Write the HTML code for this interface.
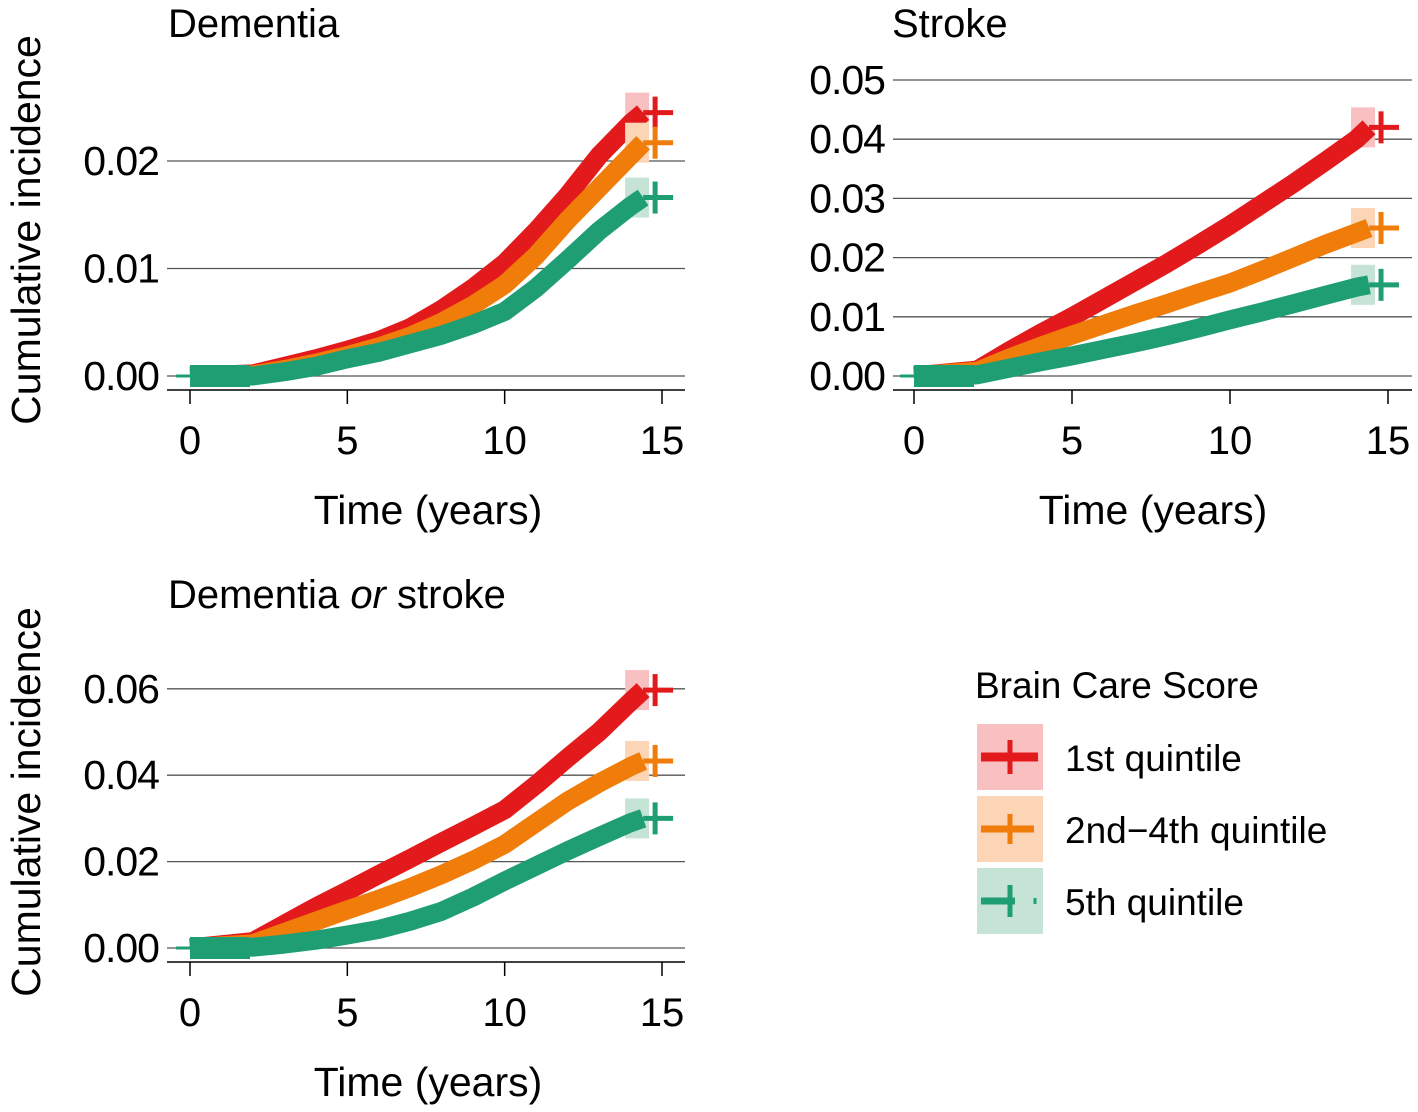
<!DOCTYPE html>
<html><head><meta charset="utf-8"><style>
html,body{margin:0;padding:0;background:#fff;}
svg{display:block;font-family:"Liberation Sans",Arial,sans-serif;}
</style></head><body>
<svg id="fig" width="1418" height="1112" viewBox="0 0 1418 1112" xmlns="http://www.w3.org/2000/svg">
<g id="legend">
<text x="975" y="698" font-size="37">Brain Care Score</text>
<g>
<rect x="977" y="724" width="66" height="66" fill="#f9c0c2"/>
<line x1="981" y1="757" x2="1038" y2="757" stroke="#e31a1c" stroke-width="9"/>
<line x1="1010" y1="740" x2="1010" y2="774" stroke="#e31a1c" stroke-width="5"/>
<text x="1065" y="771" font-size="37">1st quintile</text></g>
<g>
<rect x="977" y="796" width="66" height="66" fill="#fbd5b5"/>
<line x1="981" y1="829" x2="1034" y2="829" stroke="#f07c0a" stroke-width="7"/>
<line x1="1010" y1="814" x2="1010" y2="844" stroke="#f07c0a" stroke-width="5"/>
<text x="1065" y="843" font-size="37">2nd−4th quintile</text></g>
<g>
<rect x="977" y="868" width="66" height="66" fill="#c5e4d6"/>
<line x1="981" y1="901" x2="1015" y2="901" stroke="#1f9e74" stroke-width="7"/>
<line x1="1035" y1="898" x2="1035" y2="904" stroke="#1f9e74" stroke-width="3"/>
<line x1="1010" y1="885" x2="1010" y2="917" stroke="#1f9e74" stroke-width="5"/>
<text x="1065" y="915" font-size="37">5th quintile</text></g>
</g>
</svg>
<script>
const years = [0, 2, 3, 4, 5, 6, 7, 8, 9, 10, 11, 12, 13, 14, 14.4];
const dementiaRed    = [0, 0.0002, 0.0009, 0.0016, 0.0024, 0.0033, 0.0045, 0.0062, 0.0082, 0.0105, 0.0135, 0.0168, 0.0205, 0.0235, 0.0245];
const dementiaOrange = [0, 0.0001, 0.0006, 0.0012, 0.0019, 0.0027, 0.0037, 0.0050, 0.0066, 0.0085, 0.0112, 0.0145, 0.0175, 0.0205, 0.0217];
const dementiaGreen  = [0, 0.0000, 0.0004, 0.0009, 0.0016, 0.0022, 0.0030, 0.0038, 0.0048, 0.0060, 0.0082, 0.0108, 0.0135, 0.0158, 0.0166];
const strokeRed      = [0, 0.0010, 0.0042, 0.0072, 0.0100, 0.0130, 0.0160, 0.0190, 0.0222, 0.0255, 0.0290, 0.0325, 0.0362, 0.0400, 0.0420];
const strokeOrange   = [0, 0.0008, 0.0030, 0.0050, 0.0069, 0.0087, 0.0105, 0.0122, 0.0140, 0.0157, 0.0178, 0.0200, 0.0222, 0.0242, 0.0250];
const strokeGreen    = [0, 0.0002, 0.0013, 0.0024, 0.0034, 0.0045, 0.0056, 0.0068, 0.0081, 0.0095, 0.0108, 0.0122, 0.0136, 0.0150, 0.0154];
const bothRed        = [0, 0.0015, 0.0055, 0.0095, 0.0132, 0.0170, 0.0207, 0.0245, 0.0282, 0.0320, 0.0378, 0.0440, 0.0500, 0.0570, 0.0597];
const bothOrange     = [0, 0.0010, 0.0036, 0.0062, 0.0088, 0.0113, 0.0140, 0.0170, 0.0203, 0.0240, 0.0290, 0.0340, 0.0382, 0.0420, 0.0433];
const bothGreen      = [0, 0.0002, 0.0009, 0.0018, 0.0030, 0.0043, 0.0062, 0.0085, 0.0118, 0.0155, 0.0190, 0.0225, 0.0258, 0.0290, 0.0300];
const xTicks = [0, 5, 10, 15];
const dementiaTicks = ["0.00", "0.01", "0.02"];
const strokeTicks = ["0.00", "0.01", "0.02", "0.03", "0.04", "0.05"];
const bothTicks = ["0.00", "0.02", "0.04", "0.06"];
const colors = ["#e31a1c", "#f07c0a", "#1f9e74"];
const ribbons = ["#f9c0c2", "#fbd5b5", "#c5e4d6"];
const NS = "http://www.w3.org/2000/svg";
const svg = document.getElementById("fig");
function mk(tag, attrs, parent){const e=document.createElementNS(NS,tag);for(const k in attrs)e.setAttribute(k,attrs[k]);(parent||svg).appendChild(e);return e;}

function panel(name, title, italicTitle, titleX, titleY, x0, x15, y0, yPerUnit, ticks, series, gridLeft, gridRight, showYTitle){
  const g = mk("g", {});
  
  
  const sx = t => x0 + (x15 - x0) * t / 15;
  const sy = v => y0 - v * yPerUnit;
  const tt = mk("text", {x: titleX, y: titleY, "font-size": 40}, g);
  
  
  if (italicTitle) {
    tt.textContent = "Dementia ";
    const s = mk("tspan", {"font-style":"italic"}, tt); s.textContent = "or";
    const s2 = mk("tspan", {}, tt); s2.textContent = " stroke";
  } else tt.textContent = title;
  ticks.forEach(lbl => {
    const v = parseFloat(lbl), y = sy(v);
    const gl = mk("line", {x1: gridLeft, x2: gridRight, y1: y, y2: y, stroke: "#555", "stroke-width": 1.3}, g);
    
    
    const t = mk("text", {x: gridLeft - 8, y: y + 14, "font-size": 41, "text-anchor": "end", "letter-spacing": "-1"}, g);
    
    
    t.textContent = lbl;
  });
  const ay = y0 + 14;
  const ax = mk("line", {x1: gridLeft, x2: gridRight, y1: ay, y2: ay, stroke: "#000", "stroke-width": 1.5}, g);
  
  
  xTicks.forEach(t => {
    const tk = mk("line", {x1: sx(t), x2: sx(t), y1: ay, y2: ay + 14, stroke: "#000", "stroke-width": 1.5}, g);
    
    
    const tl = mk("text", {x: sx(t), y: ay + 64, "font-size": 40, "text-anchor": "middle"}, g);
    
    
    tl.textContent = t;
  });
  const xt = mk("text", {x: (sx(0)+sx(15))/2 + 2, y: ay + 134, "font-size": 41, "text-anchor": "middle"}, g);
  
  
  xt.textContent = "Time (years)";
  if (showYTitle) {
    const cy = y0 - 146;
    const yt = mk("text", {x: 0, y: 0, "font-size": 41, "text-anchor": "middle", transform: `translate(40,${cy}) rotate(-90)`}, g);
    
    
    yt.textContent = "Cumulative incidence";
  }
  series.forEach((vals, i) => {
    const sg = mk("g", {}, g);
    
    
    const n = vals.length - 1;
    const rx = sx(years[n]);
    const rb = mk("rect", {x: rx - 18, y: sy(vals[n]) - 20, width: 24, height: 40, fill: ribbons[i]}, sg);
    
    
    const pts = years.map((t, k) => sx(t) + "," + sy(vals[k])).join(" ");
    const pl = mk("polyline", {points: pts, fill: "none", stroke: colors[i], "stroke-width": 19, "stroke-linejoin": "round"}, sg);
    
    
    const ey = sy(vals[n]);
    const h = mk("line", {x1: rx, x2: rx + 30, y1: ey, y2: ey, stroke: colors[i], "stroke-width": 5}, sg);
    
    
    const v = mk("line", {x1: rx + 12, x2: rx + 12, y1: ey - 16, y2: ey + 16, stroke: colors[i], "stroke-width": 5}, sg);
    
    
  });
  const st = mk("line", {x1: sx(0), x2: sx(0) + 60, y1: y0, y2: y0, stroke: colors[2], "stroke-width": 22}, g);
  
  
  const st3 = mk("line", {x1: sx(0) - 14, x2: sx(0), y1: y0, y2: y0, stroke: colors[2], "stroke-width": 3}, g);
  
  
}
panel("dementia", "Dementia", false, 168, 37, 190, 662, 376, 10750, dementiaTicks, [dementiaRed, dementiaOrange, dementiaGreen], 167, 685, true);
panel("stroke", "Stroke", false, 892, 37, 914, 1388, 376, 5920, strokeTicks, [strokeRed, strokeOrange, strokeGreen], 893, 1412, false);
panel("dementia-or-stroke", "Dementia or stroke", true, 168, 608, 190, 662, 948, 4320, bothTicks, [bothRed, bothOrange, bothGreen], 167, 685, true);
</script>
</body></html>
